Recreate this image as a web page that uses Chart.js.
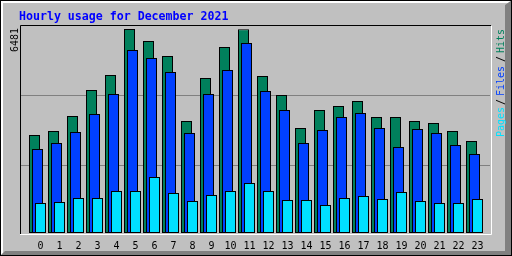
<!DOCTYPE html>
<html>
<head>
<meta charset="utf-8">
<script src="https://cdn.jsdelivr.net/npm/chart.js@4"></script>
<style>
  body { margin: 0; background: #c0c0c0; }
</style>
</head>
<body>
<canvas id="myChart" width="512" height="256"></canvas>
<script>
const title = 'Hourly usage for December 2021';
const hours = [0, 1, 2, 3, 4, 5, 6, 7, 8, 9, 10, 11, 12, 13, 14, 15, 16, 17, 18, 19, 20, 21, 22, 23];
const hits = [3113, 3241, 3717, 4543, 5020, 6481, 6100, 5623, 3558, 4924, 5909, 6470,
  4988, 4384, 3336, 3908, 4035, 4194, 3685, 3685, 3558, 3495, 3241, 2923];
const files = [2669, 2859, 3209, 3781, 4416, 5814, 5560, 5115, 3177, 4416, 5179, 6036,
  4511, 3908, 2859, 3272, 3685, 3812, 3336, 2732, 3304, 3177, 2796, 2510];
const pages = [953, 985, 1112, 1112, 1334, 1334, 1779, 1271, 1017, 1207, 1334, 1589,
  1334, 1048, 1048, 890, 1112, 1175, 1080, 1303, 1017, 953, 953, 1080];
const gridValues = [2144, 4368];

const HIT_COLOR = '#00805c';
const FILE_COLOR = '#0040ff';
const PAGE_COLOR = '#00e0ff';
const maxHits = Math.max(...hits);

// bars sit 3px apart inside a 19px hour slot
const slot = 19;
function series(values, shift) {
  return values.map((v, i) => ({ x: hours[i] + shift / slot, y: v }));
}

function upText(ctx, text, x, y, color) {
  ctx.save();
  ctx.translate(x, y);
  ctx.rotate(-Math.PI / 2);
  ctx.fillStyle = color;
  ctx.fillText(text, 0, 0);
  ctx.restore();
}

const frame = {
  id: 'frame',
  beforeDraw(chart) {
    const ctx = chart.ctx;
    ctx.save();
    ctx.fillStyle = '#c0c0c0';
    ctx.fillRect(0, 0, 512, 256);
    // outer bevel
    ctx.fillStyle = '#ffffff';
    ctx.beginPath();
    ctx.moveTo(0, 0); ctx.lineTo(512, 0); ctx.lineTo(509, 3);
    ctx.lineTo(3, 3); ctx.lineTo(3, 253); ctx.lineTo(0, 256);
    ctx.fill();
    ctx.fillStyle = '#808080';
    ctx.beginPath();
    ctx.moveTo(512, 0); ctx.lineTo(512, 256); ctx.lineTo(0, 256);
    ctx.lineTo(5, 251); ctx.lineTo(505, 251); ctx.lineTo(505, 5);
    ctx.fill();
    ctx.strokeStyle = '#000000';
    ctx.lineWidth = 1;
    ctx.strokeRect(0.5, 0.5, 511, 255);
    // inner box around the plot
    const a = chart.chartArea;
    ctx.beginPath();
    ctx.moveTo(a.left - 0.5, a.bottom + 1);
    ctx.lineTo(a.left - 0.5, a.top - 0.5);
    ctx.lineTo(a.right + 1, a.top - 0.5);
    ctx.stroke();
    ctx.strokeStyle = '#ffffff';
    ctx.beginPath();
    ctx.moveTo(a.left - 1, a.bottom + 1.5);
    ctx.lineTo(a.right + 1.5, a.bottom + 1.5);
    ctx.lineTo(a.right + 1.5, a.top);
    ctx.stroke();
    ctx.restore();
  },
  afterDraw(chart) {
    const ctx = chart.ctx;
    ctx.save();
    ctx.font = 'bold 11.6px "DejaVu Sans Mono"';
    ctx.fillStyle = '#0000ff';
    ctx.fillText(title, 19, 20);
    ctx.font = '10px "DejaVu Sans Mono"';
    upText(ctx, String(maxHits), 18, 52, '#000000');
    upText(ctx, 'Pages', 504, 137, PAGE_COLOR);
    upText(ctx, '/', 504, 105, '#000000');
    upText(ctx, 'Files', 504, 96, FILE_COLOR);
    upText(ctx, '/', 504, 62, '#000000');
    upText(ctx, 'Hits', 504, 53, HIT_COLOR);
    ctx.restore();
  }
};

const barStyle = {
  borderColor: '#000000',
  borderWidth: 1,
  borderSkipped: false,
  barThickness: 11,
  inflateAmount: 0,
  grouped: false
};

const data = {
  datasets: [
    { label: 'Hits', data: series(hits, -6), backgroundColor: HIT_COLOR, order: 3, ...barStyle },
    { label: 'Files', data: series(files, -3), backgroundColor: FILE_COLOR, order: 2, ...barStyle },
    { label: 'Pages', data: series(pages, 0), backgroundColor: PAGE_COLOR, order: 1, ...barStyle }
  ]
};

const config = {
  type: 'bar',
  data: data,
  options: {
    responsive: false,
    animation: false,
    layout: { padding: { left: 21, right: 22, top: 26, bottom: 0 } },
    plugins: {
      legend: { display: false },
      tooltip: { enabled: false },
      title: { display: false }
    },
    scales: {
      x: {
        type: 'linear',
        offset: false,
        min: -19.5 / slot,
        max: -19.5 / slot + 469 / slot,
        grid: { display: false, drawTicks: false, offset: false },
        border: { display: false },
        ticks: {
          autoSkip: false,
          maxRotation: 0,
          padding: 7,
          color: '#000000',
          font: { family: 'DejaVu Sans Mono', size: 10 }
        },
        afterBuildTicks: (scale) => { scale.ticks = hours.map(h => ({ value: h })); },
        afterFit: (scale) => { scale.height = 23; }
      },
      y: {
        min: 0,
        max: maxHits * 207 / 204,
        grid: { color: '#808080', drawTicks: false },
        border: { display: false },
        ticks: { display: false },
        afterBuildTicks: (scale) => { scale.ticks = gridValues.map(v => ({ value: v })); },
        afterFit: (scale) => { scale.width = 0; }
      }
    }
  },
  plugins: [frame]
};

const myChart = new Chart(
  document.getElementById('myChart'),
  config
);
</script>
</body>
</html>
